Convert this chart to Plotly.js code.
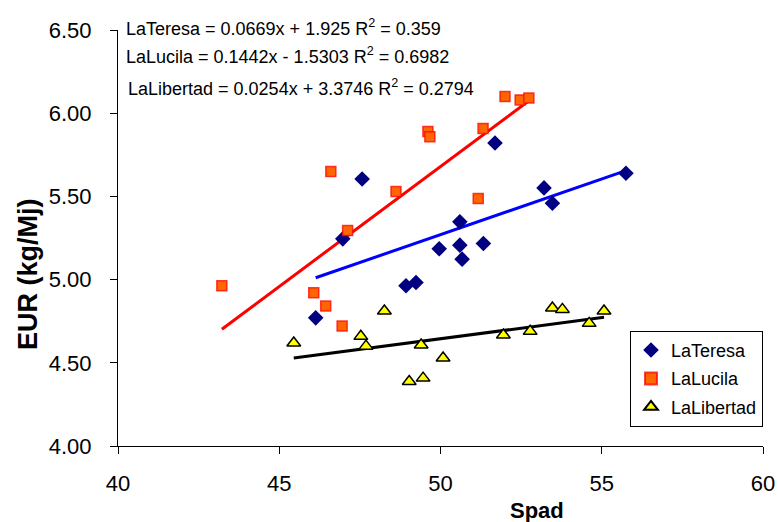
<!DOCTYPE html>
<html>
<head>
<meta charset="utf-8">
<script src="https://cdn.plot.ly/plotly-3.0.1.min.js"></script>
<style>html,body{margin:0;padding:0;background:#fff;}#chart{width:778px;height:522px;}</style>
</head>
<body>
<div id="chart"></div>
<script>
// ---- Data ----
const seriesNames = ["LaTeresa", "LaLucila", "LaLibertad"];

const teresaSpad = [46.13, 46.97, 47.57, 48.93, 49.24, 49.96, 50.60, 50.60, 50.67, 51.33, 51.69, 53.21, 53.47, 55.75];
const teresaEUR  = [4.77, 5.245, 5.605, 4.963, 4.983, 5.185, 5.347, 5.207, 5.123, 5.217, 5.821, 5.551, 5.459, 5.639];

const lucilaSpad = [43.22, 46.07, 46.44, 46.95, 46.60, 47.12, 48.62, 49.61, 49.67, 51.17, 51.32, 52.00, 52.47, 52.74];
const lucilaEUR  = [4.963, 4.921, 4.841, 4.721, 5.649, 5.295, 5.529, 5.890, 5.859, 5.487, 5.908, 6.100, 6.080, 6.091];

const libertadSpad = [45.45, 47.53, 47.69, 48.26, 49.03, 49.46, 49.40, 50.08, 51.95, 52.78, 53.47, 53.78, 54.61, 55.07];
const libertadEUR  = [4.619, 4.659, 4.600, 4.811, 4.388, 4.408, 4.607, 4.529, 4.667, 4.689, 4.829, 4.821, 4.737, 4.811];

// Linear trendlines as printed on the chart
const slopes     = [0.0669, 0.1442, 0.0254];
const intercepts = [1.925, -1.5303, 3.3746];
const slopeText  = ["0.0669", "0.1442", "0.0254"];
const interceptText = ["+ 1.925", "- 1.5303", "+ 3.3746"];
const r2Text     = ["0.359", "0.6982", "0.2794"];

const xTicks = [40, 45, 50, 55, 60];
const yTicks = [4.0, 4.5, 5.0, 5.5, 6.0, 6.5];

// ---- Styles ----
const FONT = "Liberation Sans, Arial, sans-serif";
const xs = [teresaSpad, lucilaSpad, libertadSpad];
const ys = [teresaEUR, lucilaEUR, libertadEUR];
const lineColors = ["#0000FF", "#FF0000", "#000000"];
const markers = [
  {symbol: "diamond", size: 12, color: "#000080", line: {color: "#000080", width: 0}},
  {symbol: "square", size: 10, color: "#FF6600", line: {color: "rgba(255,0,0,0.75)", width: 1.5}},
  {symbol: "triangle-up", size: 12, color: "#FFFF00", line: {color: "#000000", width: 1.5}}
];

const traces = [];
// trendlines first (drawn underneath markers)
for (let i = 0; i < 3; i++) {
  const x0 = Math.min(...xs[i]), x1 = Math.max(...xs[i]);
  traces.push({
    x: [x0, x1],
    y: [slopes[i] * x0 + intercepts[i], slopes[i] * x1 + intercepts[i]],
    mode: "lines", type: "scatter", showlegend: false, hoverinfo: "skip",
    line: {color: lineColors[i], width: 3}
  });
}
for (let i = 0; i < 3; i++) {
  traces.push({
    x: xs[i], y: ys[i], name: seriesNames[i], legendgroup: seriesNames[i],
    mode: "markers", type: "scatter", marker: markers[i]
  });
}

const eqLeft = [0.009, 0.009, 0.012];
const eqY = [1.006, 0.939, 0.862];
const annotations = [];
for (let i = 0; i < 3; i++) {
  annotations.push({
    xref: "paper", yref: "paper", x: eqLeft[i], y: eqY[i], xanchor: "left", yanchor: "middle",
    showarrow: false, font: {family: FONT, size: 18, color: "#000"},
    text: seriesNames[i] + " = " + slopeText[i] + "x " + interceptText[i] + " R<sup>2</sup> = " + r2Text[i]
  });
}
annotations.push({
  xref: "paper", yref: "paper", x: 0.65, y: -0.156, xanchor: "center", yanchor: "middle",
  showarrow: false, text: "<b>Spad</b>", font: {family: FONT, size: 22, color: "#000"}
});
annotations.push({
  xref: "paper", yref: "paper", x: -0.14, y: 0.413, xanchor: "center", yanchor: "middle",
  textangle: -90, showarrow: false, text: "<b>EUR (kg/Mj)</b>", font: {family: FONT, size: 27, color: "#000"}
});

const layout = {
  width: 778, height: 522,
  margin: {l: 118, r: 15, t: 30, b: 76},
  paper_bgcolor: "#fff", plot_bgcolor: "#fff",
  font: {family: FONT, color: "#000"},
  showlegend: true,
  legend: {
    x: 1, xanchor: "right", y: 0.046, yanchor: "bottom",
    bgcolor: "#fff", bordercolor: "#000", borderwidth: 1,
    font: {family: FONT, size: 18, color: "#000"},
    tracegroupgap: 2, itemsizing: "constant", itemwidth: 30
  },
  xaxis: {
    range: [40, 60], tickvals: xTicks, ticktext: xTicks.map(String),
    ticks: "outside", ticklen: 7, tickcolor: "#000", tickwidth: 1,
    showline: true, linecolor: "#000", linewidth: 1, showgrid: false, zeroline: false,
    tickfont: {family: FONT, size: 22, color: "#000"}, ticklabelstandoff: 11
  },
  yaxis: {
    range: [4, 6.5], tickvals: yTicks, ticktext: yTicks.map(v => v.toFixed(2)),
    ticks: "outside", ticklen: 7, tickcolor: "#000", tickwidth: 1,
    showline: true, linecolor: "#000", linewidth: 1, showgrid: false, zeroline: false,
    tickfont: {family: FONT, size: 22, color: "#000"}, ticklabelstandoff: 14
  },
  annotations: annotations
};

Plotly.newPlot("chart", traces, layout, {staticPlot: true, displayModeBar: false});
</script>
</body>
</html>
